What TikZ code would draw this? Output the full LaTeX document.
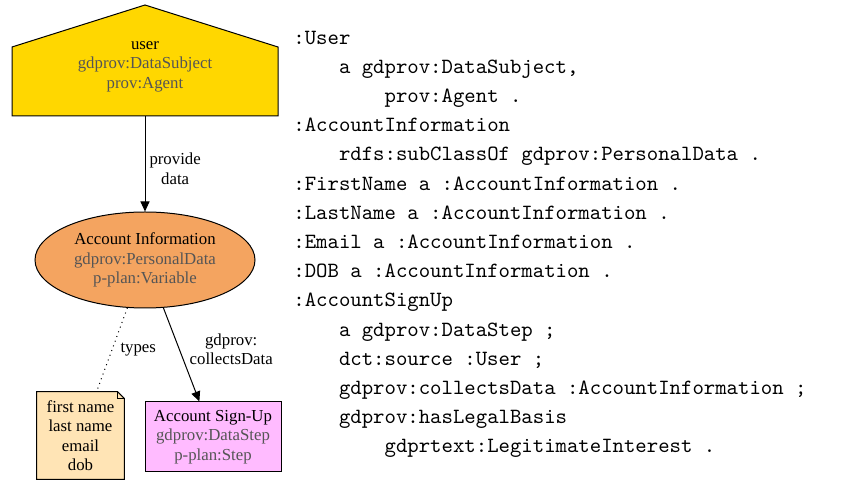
\documentclass[tikz,border=0pt]{standalone}
\usepackage{fontspec}
\setmainfont{Liberation Serif}
\usetikzlibrary{shapes,arrows.meta,positioning,backgrounds}
\definecolor{agentfill}{HTML}{FFD700}
\definecolor{datafill}{HTML}{F4A460}
\definecolor{notefill}{HTML}{FFE4B5}
\definecolor{stepfill}{HTML}{FFBBFF}
\definecolor{typegray}{HTML}{555555}
\newcommand{\gvfont}{\fontsize{8.4}{9.75}\selectfont}
\newcommand{\ttind}{\phantom{xxxx}}

\begin{document}
\begin{tikzpicture}[x=0.5pt, y=-0.5pt,
  gv/.style={align=center, font=\gvfont, inner sep=0pt},
  ovalbox/.style={ellipse, draw, line width=0.5pt, fill=datafill, minimum width=110pt, minimum height=48pt, align=center, font=\gvfont},
  stepbox/.style={rectangle, draw, line width=0.5pt, fill=stepfill, minimum width=68pt, minimum height=35pt, align=center, font=\gvfont},
  arr/.style={-{Triangle[length=5pt, width=4.5pt]}, line width=0.5pt},
  elabel/.style={font=\gvfont, align=center, inner sep=0pt}
]
  \useasboundingbox (0,0) rectangle (858,485);

  % graph nodes
  \node[gv] (user) at (145,66.5) {user\\ \textcolor{typegray}{gdprov:DataSubject}\\ \textcolor{typegray}{prov:Agent}};
  \coordinate (userbase) at (145,116);
  \node[ovalbox] (accinfo) at (145,260) {Account Information\\ \textcolor{typegray}{gdprov:PersonalData}\\ \textcolor{typegray}{p-plan:Variable}};
  \node[gv, minimum width=43.5pt, minimum height=43.5pt] (fields) at (80.5,435.5) {first name\\ last name\\ email\\ dob};
  \node[stepbox] (signup) at (213,437) {Account Sign-Up\\ \textcolor{typegray}{gdprov:DataStep}\\ \textcolor{typegray}{p-plan:Step}};

  % house and note outlines
  \begin{scope}[on background layer]
    \draw[fill=agentfill, line width=0.5pt] (12,116) -- (12,47) -- (145,5) -- (278,47) -- (278,116) -- cycle;
    \draw[fill=notefill, line width=0.5pt] (fields.south west) -- (fields.north west) -- ([xshift=-3.5pt]fields.north east) -- ([yshift=-3.5pt]fields.north east) -- (fields.south east) -- cycle;
    \draw[line width=0.5pt] ([xshift=-3.5pt]fields.north east) |- ([yshift=-3.5pt]fields.north east);
  \end{scope}

  % edges
  \draw[arr] (userbase) -- (accinfo) node[elabel, right=2pt, pos=0.55] {provide\\ data};
  \draw[dotted, line width=0.5pt] (accinfo) -- (fields) node[elabel, right=4pt, pos=0.5] {types};
  \draw[arr] (accinfo) -- (signup) node[elabel, right=5pt, pos=0.44] {gdprov:\\ collectsData};

  % turtle listing
  \node[anchor=north west, inner sep=0pt, align=left, font=\fontsize{10.86}{14.6}\selectfont\ttfamily] (turtle) at (293,30.5) {%
    :User\\
    \ttind a gdprov:DataSubject,\\
    \ttind\ttind prov:Agent .\\
    :AccountInformation\\
    \ttind rdfs:subClassOf gdprov:PersonalData .\\
    :FirstName a :AccountInformation .\\
    :LastName a :AccountInformation .\\
    :Email a :AccountInformation .\\
    :DOB a :AccountInformation .\\
    :AccountSignUp\\
    \ttind a gdprov:DataStep ;\\
    \ttind dct:source :User ;\\
    \ttind gdprov:collectsData :AccountInformation ;\\
    \ttind gdprov:hasLegalBasis\\
    \ttind\ttind gdprtext:LegitimateInterest .};
\end{tikzpicture}
\end{document}
